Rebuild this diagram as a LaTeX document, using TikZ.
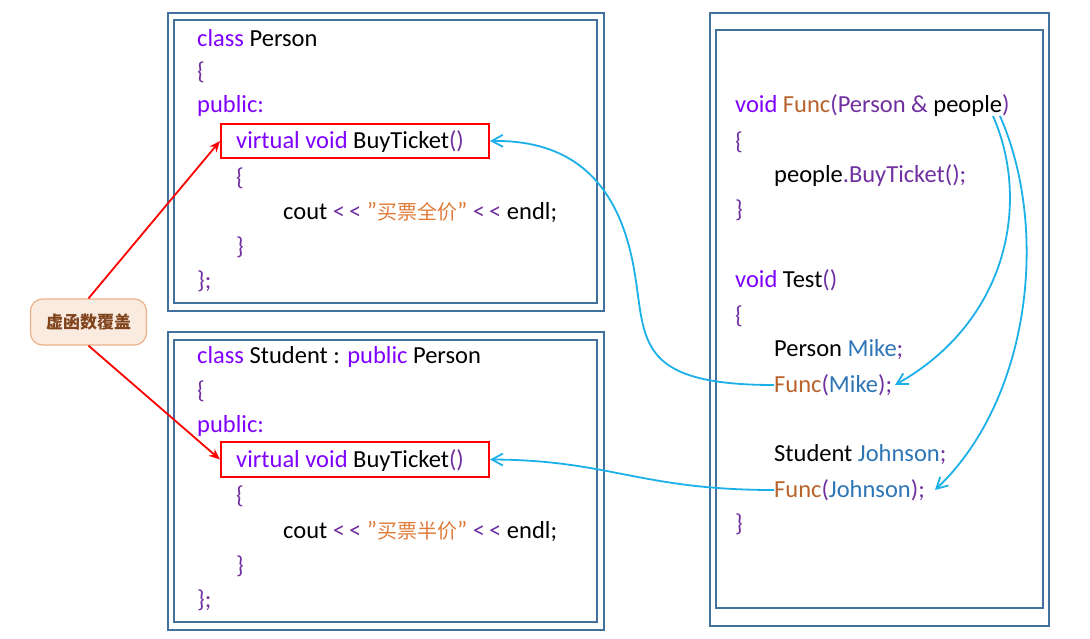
\documentclass[tikz,border=0pt]{standalone}
\usepackage{fontspec}
\setmainfont{Carlito}
\newfontfamily\cjk{Noto Sans CJK SC}
\usetikzlibrary{arrows.meta}
\definecolor{kw}{HTML}{7F00FF}
\definecolor{br}{HTML}{7030A0}
\definecolor{fn}{HTML}{B8632B}
\definecolor{st}{HTML}{E07B39}
\definecolor{vr}{HTML}{2E75B6}
\definecolor{bx}{HTML}{41719C}
\definecolor{ar}{HTML}{1CB0E8}
\newcommand{\K}[1]{\textcolor{kw}{#1}}
\newcommand{\B}[1]{\textcolor{br}{#1}}
\newcommand{\F}[1]{\textcolor{fn}{#1}}
\newcommand{\V}[1]{\textcolor{vr}{#1}}
\newcommand{\LL}{\textcolor{br}{{<}\,{<}}}
\newcommand{\Sg}[1]{\textcolor{st}{\symbol{34}{\cjk\fontsize{20}{22}\selectfont #1}\symbol{34}}}
\begin{document}
\begin{tikzpicture}[x=1pt,y=-1pt,
  code/.style={anchor=west,inner sep=0pt,font=\fontsize{24.5}{28}\selectfont},
  frame/.style={draw=bx,line width=2pt},
  red/.style={draw=red,line width=2pt},
  rarr/.style={draw=red,line width=1.8pt,-{Stealth[length=11pt,width=9pt]}},
  barr/.style={draw=ar,line width=1.8pt,-{Straight Barb[length=11pt,width=12pt]}}]
\useasboundingbox (0,0) rectangle (1090,638);
\draw[frame] (168,13) rectangle (604,311);
\draw[frame] (174,20) rectangle (597,303);
\draw[frame] (168,332) rectangle (604,630);
\draw[frame] (174,340) rectangle (597,622);
\draw[frame] (710,13) rectangle (1049,626);
\draw[frame] (716,30) rectangle (1043,608);
\node[red,minimum width=268pt,minimum height=34pt] (v1) at (355,141) {};
\node[red,minimum width=268pt,minimum height=35pt] (v2) at (355,459.5) {};
% box 1
\node[code] (a1) at (197,38) {\K{class} Person};
\node[code] at (197,72) {\B{\{}};
\node[code] at (197,106) {\K{public:}};
\node[code] at (236,142) {\K{virtual void} BuyTicket\B{()}};
\node[code] at (236,178) {\B{\{}};
\node[code] at (283,212) {cout \LL{} \Sg{买票全价} \LL{} endl;};
\node[code] at (236,247) {\B{\}}};
\node[code] at (197,281) {\B{\};}};
% box 2
\node[code] at (197,357) {\K{class} Student : \K{public} Person};
\node[code] at (197,391) {\B{\{}};
\node[code] at (197,426) {\K{public:}};
\node[code] at (236,461) {\K{virtual void} BuyTicket\B{()}};
\node[code] at (236,496) {\B{\{}};
\node[code] at (283,531) {cout \LL{} \Sg{买票半价} \LL{} endl;};
\node[code] at (236,566) {\B{\}}};
\node[code] at (197,600) {\B{\};}};
% right
\node[code] at (735,106) {\K{void} \F{Func}\B{(Person \&} people\B{)}};
\node[code] at (735,142) {\B{\{}};
\node[code] at (774,176) {people\B{.BuyTicket();}};
\node[code] at (735,210) {\B{\}}};
\node[code] at (735,280) {\K{void} Test\B{()}};
\node[code] at (735,316) {\B{\{}};
\node[code] at (774,350) {Person \V{Mike}\B{;}};
\node[code] (fm) at (774,385) {\F{Func}\B{(}\V{Mike}\B{);}};
\node[code] at (774,455) {Student \V{Johnson}\B{;}};
\node[code] (fj) at (774,490) {\F{Func}\B{(}\V{Johnson}\B{);}};
\node[code] at (735,524) {\B{\}}};
\coordinate (p1) at (993,116);
\coordinate (p2) at (1000,116);
% label
\node[draw=st!60,fill=st!15,rounded corners=12pt,line width=1.2pt,minimum width=116pt,minimum height=46pt,
  text=fn!70!black,font=\cjk\fontsize{17}{20}\selectfont\bfseries] (lab) at (88.5,322) {虚函数覆盖};
\draw[rarr] (lab.north) -- (v1.west);
\draw[rarr] (lab.south) -- (v2.west);
\draw[barr] (fm.west) .. controls (620,385) and (650,330) .. (630,250) .. controls (610,170) and (560,140) .. (v1.east);
\draw[barr] (fj.west) .. controls (640,490) and (610,460) .. (v2.east);
\draw[barr] (p1) .. controls (1030,200) and (1010,320) .. (895,385);
\draw[barr] (p2) .. controls (1050,230) and (1030,400) .. (935,490);
\end{tikzpicture}
\end{document}
